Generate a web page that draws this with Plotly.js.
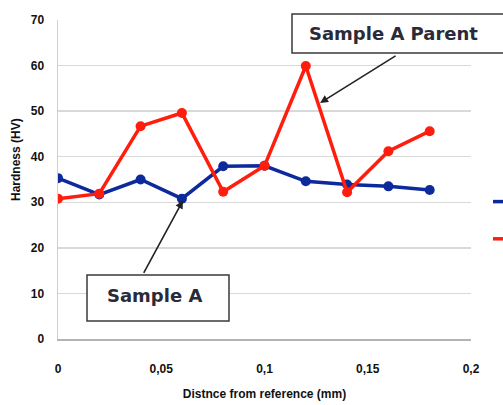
<!DOCTYPE html>
<html><head><meta charset="utf-8">
<script src="https://cdn.plot.ly/plotly-3.0.1.min.js"></script>
<style>html,body{margin:0;padding:0;background:#fff;overflow:hidden;}#chart{width:503px;height:405px;overflow:hidden;}</style>
</head><body><div id="chart"></div>
<script>
const distance = [0, 0.02, 0.04, 0.06, 0.08, 0.10, 0.12, 0.14, 0.16, 0.18];
const sampleA = [35.3, 31.7, 35.0, 30.8, 37.9, 38.0, 34.6, 33.9, 33.5, 32.7];
const sampleAParent = [30.8, 31.9, 46.7, 49.6, 32.3, 38.0, 59.9, 32.2, 41.2, 45.6];
const xTicks = [0, 0.05, 0.1, 0.15, 0.2];
const xTickText = ["0", "0,05", "0,1", "0,15", "0,2"];
const yTicks = [0, 10, 20, 30, 40, 50, 60, 70];
const names = ["Sample A", "Sample A Parent"];

const W = 503, L = 58, R = 32, T = 20, B = 66;
const pw = W - L - R, ph = 405 - T - B;
const px = v => (v - L) / pw;          // pixel -> paper x
const py = v => (405 - B - v) / ph;    // pixel -> paper y

const tickFont = {family: "Liberation Sans, Arial, sans-serif", size: 12, color: "#111", weight: "bold"};
const boxFont = {family: "DejaVu Sans, sans-serif", size: 18, color: "#2a2a38", weight: "bold"};

const traces = [
  {x: distance, y: sampleA, name: names[0], legendgroup: "a", type: "scatter", mode: "lines+markers",
   line: {color: "#0d2a9c", width: 3.5}, marker: {color: "#0d2a9c", size: 10}},
  {x: distance, y: sampleAParent, name: names[1], legendgroup: "b", type: "scatter", mode: "lines+markers",
   line: {color: "#ff1e0e", width: 3.5}, marker: {color: "#ff1e0e", size: 10}}
];

const layout = {
  width: 503, height: 405,
  margin: {l: L, r: R, t: T, b: B, autoexpand: false},
  paper_bgcolor: "#fff", plot_bgcolor: "#fff",
  showlegend: true,
  legend: {x: px(488), xanchor: "left", y: py(186), yanchor: "top", tracegroupgap: 16,
           font: {family: "Liberation Sans, Arial, sans-serif", size: 14, color: "#111"}, bgcolor: "rgba(0,0,0,0)"},
  xaxis: {range: [0, 0.2], tickvals: xTicks, ticktext: xTickText, showgrid: false, zeroline: false,
          showline: true, linecolor: "#b4b4b4", linewidth: 2, ticks: "", tickfont: tickFont, ticklabelstandoff: 18,
          title: {text: "Distnce from reference (mm)", font: {family: "Liberation Sans, Arial, sans-serif", size: 12, color: "#111", weight: "bold"}, standoff: 14}},
  yaxis: {range: [0, 70], tickvals: yTicks, showgrid: true, gridcolor: "#d9d9d9", gridwidth: 1.5, zeroline: false,
          showline: true, linecolor: "#d0d0d0", linewidth: 1.5, ticks: "", tickfont: tickFont, ticklabelstandoff: 10},
  shapes: [
    {type: "rect", xref: "paper", yref: "paper", x0: px(292), x1: px(520), y0: py(53), y1: py(14),
     line: {color: "#3a3a3a", width: 1.5}, fillcolor: "#fff", layer: "above"},
    {type: "rect", xref: "paper", yref: "paper", x0: px(87), x1: px(229), y0: py(321), y1: py(275),
     line: {color: "#3a3a3a", width: 1.5}, fillcolor: "#fff", layer: "above"}
  ],
  annotations: [
    {xref: "paper", yref: "paper", x: px(393), y: py(33), text: names[1], showarrow: false,
     xanchor: "center", yanchor: "middle", font: boxFont},
    {xref: "paper", yref: "paper", x: px(154), y: py(295), text: names[0], showarrow: false,
     xanchor: "center", yanchor: "middle", font: boxFont},
    {xref: "x", yref: "y", x: 0.1269, y: 51.8, text: "", showarrow: true, ax: 77, ay: -48,
     arrowhead: 2, arrowsize: 1, arrowwidth: 1.6, arrowcolor: "#222", standoff: 0},
    {xref: "x", yref: "y", x: 0.0605, y: 30.4, text: "", showarrow: true, ax: -40, ay: 74,
     arrowhead: 2, arrowsize: 1, arrowwidth: 1.6, arrowcolor: "#222", standoff: 0},
    {xref: "paper", yref: "paper", x: px(16), y: py(160), text: "Hardness (HV)", textangle: -90, showarrow: false,
     xanchor: "center", yanchor: "middle", font: {family: "Liberation Sans, Arial, sans-serif", size: 12, color: "#111", weight: "bold"}}
  ]
};

Plotly.newPlot("chart", traces, layout, {displayModeBar: false, staticPlot: true});
</script></body></html>
